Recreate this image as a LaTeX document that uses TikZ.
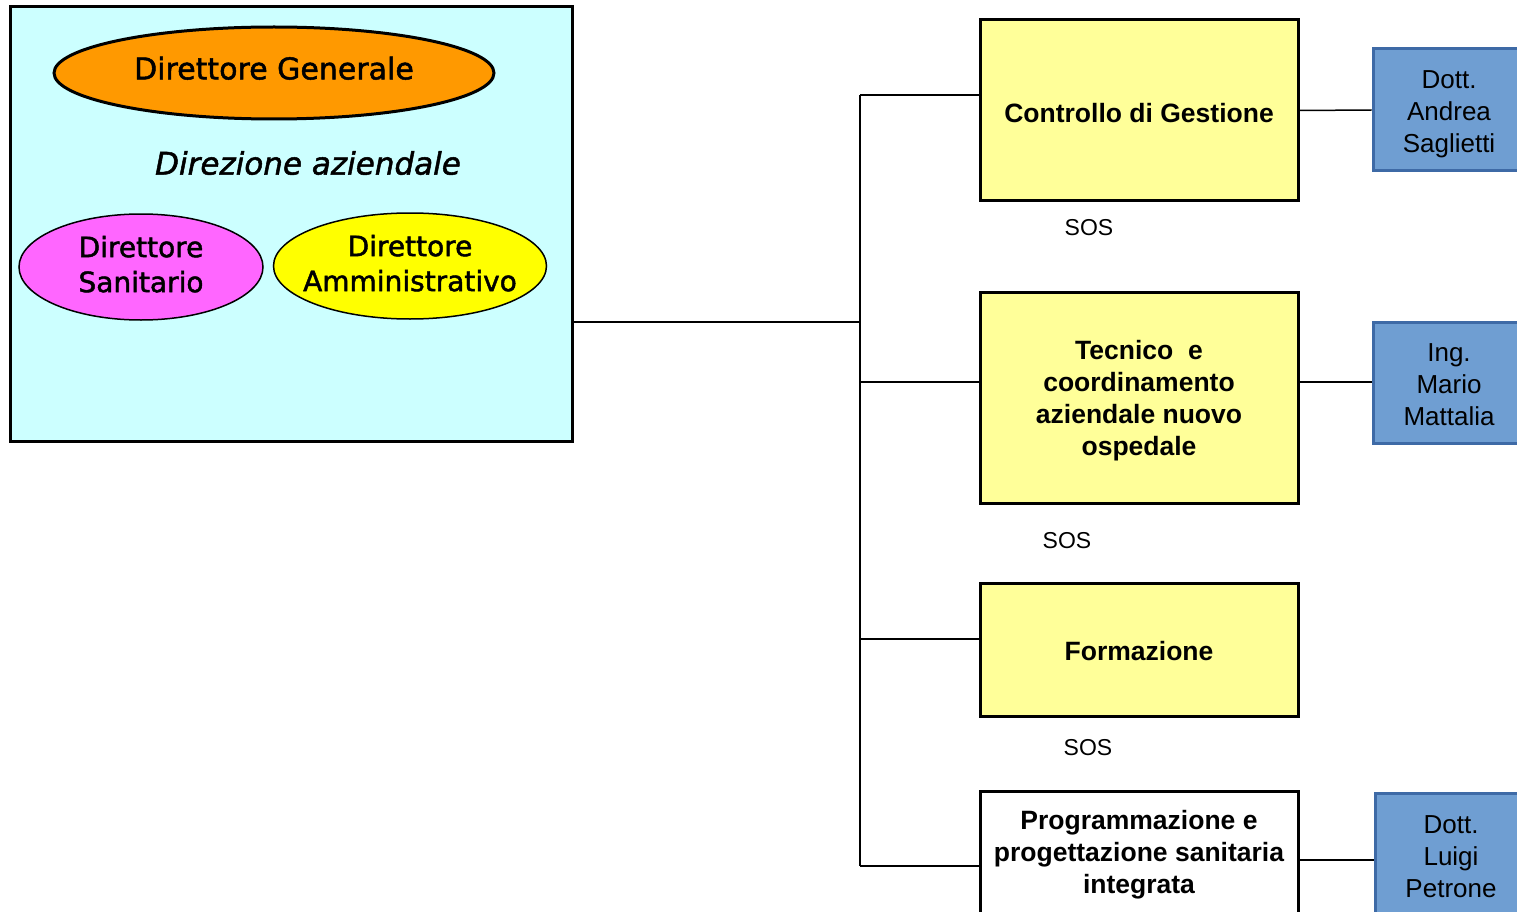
\documentclass[tikz,border=0pt]{standalone}
\usepackage{fontspec}
\setmainfont{Liberation Sans}
\newfontfamily\dejavu[FakeBold=1.6]{DejaVu Sans}
\usetikzlibrary{shapes.geometric}
\definecolor{cyanbg}{HTML}{CCFFFF}
\definecolor{dgorange}{HTML}{FF9900}
\definecolor{dspink}{HTML}{FF66FF}
\definecolor{dayellow}{HTML}{FFFF00}
\definecolor{unityellow}{HTML}{FFFF99}
\definecolor{bluefill}{HTML}{6F9ED2}
\definecolor{blueline}{HTML}{3E6AA6}
\newcommand{\upstrut}[1]{\rule{0pt}{#1pt}}
\newcommand{\downstrut}[1]{\rule[-#1pt]{0pt}{#1pt}}
\tikzset{
  unitbox/.style={draw=black, line width=3pt, fill=unityellow, minimum width=318pt, inner sep=0pt, align=center, font=\bfseries\fontsize{26.5}{32}\selectfont},
  personbox/.style={draw=blueline, line width=3pt, fill=bluefill, minimum width=152pt, inner sep=0pt, align=center, font=\fontsize{26}{32}\selectfont},
  dirbox/.style={ellipse, draw=black, inner xsep=-14pt, inner ysep=0pt, align=center, font=\dejavu\fontsize{28}{35}\selectfont},
  conn/.style={line width=1.5pt, draw=black},
  soslabel/.style={font=\fontsize{23}{27}\selectfont, inner sep=0pt}
}
\begin{document}
\begin{tikzpicture}[x=1pt, y=-1pt]
\useasboundingbox (0,0) rectangle (1517,912);
\clip (0,0) rectangle (1517,912);
% left direction box
\node[draw=black, line width=3pt, fill=cyanbg, minimum width=562pt, minimum height=434pt, inner sep=0pt] (dir) at (291,224) {};
\node[dirbox, line width=3pt, fill=dgorange, minimum width=440pt, minimum height=92pt, font=\dejavu\fontsize{30}{36}\selectfont, text depth=10pt] (dg) at (274,73) {Direttore Generale};
\node[font=\dejavu\itshape\fontsize{31}{36}\selectfont, inner sep=0pt] (da) at (308,163) {Direzione aziendale};
\node[dirbox, line width=1.5pt, fill=dspink, minimum width=244pt, minimum height=106pt] (ds) at (141,267) {Direttore\\Sanitario\downstrut{6}};
\node[dirbox, line width=1.5pt, fill=dayellow, minimum width=273pt, minimum height=106pt] (dam) at (410,266) {Direttore\\Amministrativo\downstrut{6}};
% unit boxes
\node[unitbox, minimum height=181pt] (cg) at (1139,110.5) {\upstrut{24}Controllo di Gestione};
\node[unitbox, minimum height=211pt] (tc) at (1139,397.5) {\upstrut{26}Tecnico \ e\\coordinamento\\aziendale nuovo\\ospedale};
\node[unitbox, minimum height=133pt] (fo) at (1139,649.5) {\upstrut{23}Formazione};
\node[unitbox, fill=white, minimum height=124pt] (pp) at (1139,853) {\upstrut{22}Programmazione e\\progettazione sanitaria\\integrata};
% SOS labels
\node[soslabel] (s1) at (1089,228) {SOS};
\node[soslabel] (s2) at (1067,541) {SOS};
\node[soslabel] (s3) at (1088,748) {SOS};
% person boxes
\node[personbox, minimum height=122pt] (p1) at (1449,110) {\upstrut{27}Dott.\\Andrea\\Saglietti};
\node[personbox, minimum height=121pt] (p2) at (1449,382.5) {\upstrut{23}Ing.\\Mario\\Mattalia};
\node[personbox, minimum height=124pt] (p3) at (1451,855) {\upstrut{21}Dott.\\Luigi\\Petrone};
% connector points
\coordinate (hub) at (860,322);
\coordinate (t1) at (860,95);
\coordinate (t2) at (860,382);
\coordinate (t3) at (860,639);
\coordinate (t4) at (860,866);
\coordinate (r2) at (1337,382);
\coordinate (r4) at (1337,860);
% connectors
\draw[conn] (dir.east |- hub) -- (hub);
\draw[conn] (t1) -- (t4);
\draw[conn] (t1) -- (cg.west |- t1);
\draw[conn] (t2) -- (tc.west |- t2);
\draw[conn] (t3) -- (fo.west |- t3);
\draw[conn] (t4) -- (pp.west |- t4);
\draw[conn] (cg.east) -- (p1.west);
\draw[conn] (tc.east |- r2) -- (p2.west |- r2);
\draw[conn] (pp.east |- r4) -- (p3.west |- r4);
\end{tikzpicture}
\end{document}
